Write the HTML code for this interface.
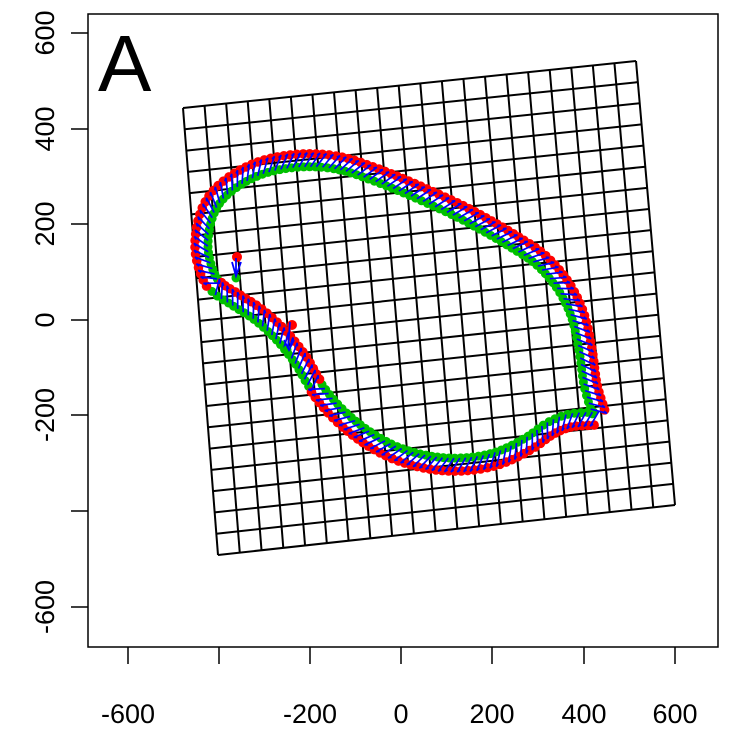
<!DOCTYPE html>
<html><head><meta charset="utf-8"><style>
html,body{margin:0;padding:0;background:#fff;}
svg{display:block;}
text{font-family:"Liberation Sans",sans-serif;fill:#000;}
</style></head><body>
<svg id="s" width="732" height="737" viewBox="0 0 732 737" xmlns="http://www.w3.org/2000/svg">
<rect x="88" y="14" width="630" height="633" fill="none" stroke="#000" stroke-width="1.5"/>
<g stroke="#000" stroke-width="1.5">
<line x1="128" y1="647" x2="128" y2="664"/><line x1="219" y1="647" x2="219" y2="664"/>
<line x1="310" y1="647" x2="310" y2="664"/><line x1="401" y1="647" x2="401" y2="664"/>
<line x1="492" y1="647" x2="492" y2="664"/><line x1="584" y1="647" x2="584" y2="664"/>
<line x1="675" y1="647" x2="675" y2="664"/>
<line x1="71" y1="33" x2="88" y2="33"/><line x1="71" y1="129" x2="88" y2="129"/>
<line x1="71" y1="224" x2="88" y2="224"/><line x1="71" y1="320" x2="88" y2="320"/>
<line x1="71" y1="415" x2="88" y2="415"/><line x1="71" y1="511" x2="88" y2="511"/>
<line x1="71" y1="607" x2="88" y2="607"/>
</g>
<g font-size="27" text-anchor="middle">
<text x="128" y="723">-600</text><text x="310" y="723">-200</text><text x="401" y="723">0</text>
<text x="492" y="723">200</text><text x="584" y="723">400</text><text x="675" y="723">600</text>
<text transform="translate(54,33) rotate(-90)">600</text>
<text transform="translate(54,129) rotate(-90)">400</text>
<text transform="translate(54,224) rotate(-90)">200</text>
<text transform="translate(54,320) rotate(-90)">0</text>
<text transform="translate(54,415) rotate(-90)">-200</text>
<text transform="translate(54,607) rotate(-90)">-600</text>
</g>
<text x="98" y="91" font-size="80">A</text>
<g id="grid" stroke="#000" stroke-width="2" fill="none"></g>
<g id="curve"></g>
</svg>
<script>
var NS="http://www.w3.org/2000/svg";
function el(p,t,a){var e=document.createElementNS(NS,t);for(var k in a)e.setAttribute(k,a[k]);p.appendChild(e);return e;}
var TL=[183,108],TR=[636,61],BR=[675,505],BL=[218,555],N=21;
function P(u,v){return [(1-u)*(1-v)*TL[0]+u*(1-v)*TR[0]+u*v*BR[0]+(1-u)*v*BL[0],(1-u)*(1-v)*TL[1]+u*(1-v)*TR[1]+u*v*BR[1]+(1-u)*v*BL[1]];}
var g=document.getElementById('grid');
for(var i=0;i<=N;i++){var a=P(i/N,0),b=P(i/N,1);el(g,'line',{x1:a[0],y1:a[1],x2:b[0],y2:b[1]});
var c=P(0,i/N),d=P(1,i/N);el(g,'line',{x1:c[0],y1:c[1],x2:d[0],y2:d[1]});}
var pts=[[598,412],[590,385],[585,350],[577,315],[562,285],[540,260],[515,243],[488,227],[460,212],[430,198],[400,185],[372,174],[345,165],[318,161],[290,162],[262,168],[237,180],[217,197],[206,218],[202,245],[206,268],[216,287],[235,300],[258,315],[280,335],[300,360],[315,385],[335,410],[360,432],[390,450],[420,460],[450,464],[480,462],[505,455],[530,442],[550,428],[570,420],[595,418]];
var sg=[];for(var i=0;i<pts.length;i++)sg.push(i>=21&&i<=25?-1:1);
var dense=[];
function cr(p0,p1,p2,p3,t){var t2=t*t,t3=t2*t;return [0.5*(2*p1[0]+(-p0[0]+p2[0])*t+(2*p0[0]-5*p1[0]+4*p2[0]-p3[0])*t2+(-p0[0]+3*p1[0]-3*p2[0]+p3[0])*t3),0.5*(2*p1[1]+(-p0[1]+p2[1])*t+(2*p0[1]-5*p1[1]+4*p2[1]-p3[1])*t2+(-p0[1]+3*p1[1]-3*p2[1]+p3[1])*t3)];}
for(var i=0;i<pts.length-1;i++){var p0=pts[Math.max(0,i-1)],p1=pts[i],p2=pts[i+1],p3=pts[Math.min(pts.length-1,i+2)];
for(var t=0;t<1;t+=0.02){var q=cr(p0,p1,p2,p3,t);q.s=sg[i];dense.push(q);}}
var samp=[dense[0]],acc=0;
for(var i=1;i<dense.length;i++){acc+=Math.hypot(dense[i][0]-dense[i-1][0],dense[i][1]-dense[i-1][1]);if(acc>=6){samp.push(dense[i]);acc=0;}}
var cv=document.getElementById('curve');
var R=[],G=[],B=[];
for(var i=0;i<samp.length;i++){var a=samp[Math.max(0,i-1)],b=samp[Math.min(samp.length-1,i+1)];
var dx=b[0]-a[0],dy=b[1]-a[1],L=Math.hypot(dx,dy)||1;var nx=-dy/L*samp[i].s,ny=dx/L*samp[i].s;
R.push([samp[i][0]+nx*7,samp[i][1]+ny*7]);G.push([samp[i][0]-nx*6,samp[i][1]-ny*6]);B.push([samp[i],nx,ny,dx/L,dy/L]);}
G.forEach(function(p){el(cv,'circle',{cx:p[0],cy:p[1],r:4.5,fill:'#00c000'});});
R.forEach(function(p){el(cv,'circle',{cx:p[0],cy:p[1],r:4.8,fill:'#ff0000'});});
var d='';B.forEach(function(o,i){var p=o[0];var x1=p[0]-o[1]*6+o[3]*5,y1=p[1]-o[2]*6+o[4]*5,x2=p[0]+o[1]*8-o[3]*4,y2=p[1]+o[2]*8-o[4]*4;
d+='M'+x1+' '+y1+'L'+x2+' '+y2+'L'+(x2+o[3]*3-o[1]*2)+' '+(y2+o[4]*3-o[2]*2)+' ';});
el(cv,'path',{d:d,stroke:'#0000ff','stroke-width':1.7,fill:'none'});
el(cv,'circle',{cx:237,cy:257,r:5,fill:'#ff0000'});el(cv,'circle',{cx:236,cy:278,r:4.5,fill:'#00c000'});
el(cv,'path',{d:'M232 262L236 276L241 262M236 276L236 258',stroke:'#0000ff','stroke-width':1.8,fill:'none'});
el(cv,'circle',{cx:292,cy:325,r:5,fill:'#ff0000'});el(cv,'circle',{cx:287,cy:350,r:4.5,fill:'#00c000'});
el(cv,'path',{d:'M290 322L288 348M284 340L289 350L294 340',stroke:'#0000ff','stroke-width':1.8,fill:'none'});
</script>
</body></html>
